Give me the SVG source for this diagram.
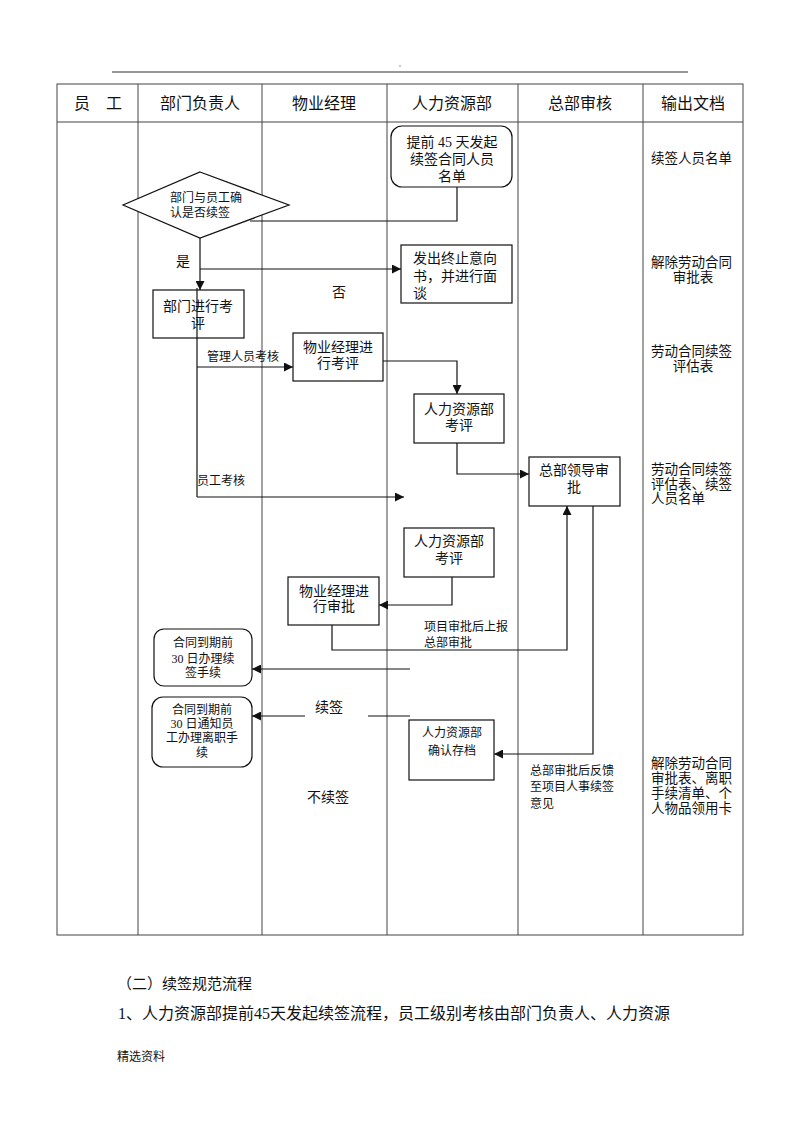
<svg xmlns="http://www.w3.org/2000/svg" width="800" height="1132" viewBox="0 0 800 1132">
<style>
text{font-family:"Liberation Serif","Noto Sans CJK SC",serif;fill:#111}
.h{font-size:16px;text-anchor:middle}
.n14{font-size:14px;text-anchor:middle}
.n12{font-size:12px;text-anchor:middle}
.l12{font-size:12px}
.l14{font-size:14px}
.doc{font-size:13.5px}
.docc{font-size:13.5px;text-anchor:middle}
.grid{stroke:#444;stroke-width:1;fill:none}
.box{fill:#fff;stroke:#111;stroke-width:1.2}
.con{fill:none;stroke:#111;stroke-width:1.2}
</style>
<defs>
<marker id="ah" viewBox="0 0 10 10" refX="10" refY="5" markerWidth="9" markerHeight="9" markerUnits="userSpaceOnUse" orient="auto">
<path d="M0,0 L10,5 L0,10 z" fill="#111"/>
</marker>
</defs>
<rect width="800" height="1132" fill="#fff"/>
<g id="page-header">
<circle cx="400" cy="66" r="0.8" fill="#888"/>
<line x1="112" y1="72" x2="688" y2="72" stroke="#333" stroke-width="1.2"/>
</g>
<g id="table">
<rect x="57" y="84" width="686" height="851" class="grid"/>
<line x1="57" y1="122" x2="743" y2="122" class="grid"/>
<line x1="138" y1="84" x2="138" y2="935" class="grid"/>
<line x1="262" y1="84" x2="262" y2="935" class="grid"/>
<line x1="387" y1="84" x2="387" y2="935" class="grid"/>
<line x1="518" y1="84" x2="518" y2="935" class="grid"/>
<line x1="643" y1="84" x2="643" y2="935" class="grid"/>
<text class="h" x="98" y="109">员　工</text>
<text class="h" x="200" y="109">部门负责人</text>
<text class="h" x="324" y="109">物业经理</text>
<text class="h" x="452" y="109">人力资源部</text>
<text class="h" x="580" y="109">总部审核</text>
<text class="h" x="693" y="109">输出文档</text>
</g>
<g id="connectors">
<polyline class="con" points="457,187 457,221 250,221"/>
<line class="con" x1="200" y1="238" x2="200" y2="290" marker-end="url(#ah)"/>
<line class="con" x1="200" y1="269" x2="401" y2="269" marker-end="url(#ah)"/>
<line class="con" x1="197" y1="288" x2="197" y2="497"/>
<line class="con" x1="197" y1="367" x2="293" y2="367" marker-end="url(#ah)"/>
<line class="con" x1="197" y1="497" x2="404" y2="497" marker-end="url(#ah)"/>
<polyline class="con" points="383,361 457,361 457,394" marker-end="url(#ah)"/>
<polyline class="con" points="457,443 457,474 529,474" marker-end="url(#ah)"/>
<polyline class="con" points="452,577 452,605 379,605" marker-end="url(#ah)"/>
<polyline class="con" points="332,625 332,650 567,650 567,506" marker-end="url(#ah)"/>
<polyline class="con" points="593,506 593,754 494,754" marker-end="url(#ah)"/>
<line class="con" x1="410" y1="669" x2="252" y2="669" marker-end="url(#ah)"/>
<line class="con" x1="410" y1="716" x2="368" y2="716"/>
<line class="con" x1="305" y1="716" x2="252" y2="716" marker-end="url(#ah)"/>
</g>
<g id="labels">
<text class="l14" x="176" y="266">是</text>
<text class="l14" x="332" y="297">否</text>
<text class="l12" x="207" y="361">管理人员考核</text>
<text class="l12" x="197" y="485">员工考核</text>
<text class="l12" x="424" y="631">项目审批后上报</text>
<text class="l12" x="424" y="647">总部审批</text>
<text class="l14" x="315" y="712">续签</text>
<text class="l14" x="307" y="802">不续签</text>
<text class="l12" x="530" y="775">总部审批后反馈</text>
<text class="l12" x="530" y="791">至项目人事续签</text>
<text class="l12" x="530" y="808">意见</text>
</g>
<g id="n-start">
<rect class="box" x="391" y="126" width="121" height="61" rx="11"/>
<text class="n14" x="452" y="147">提前 45 天发起</text>
<text class="n14" x="452" y="164">续签合同人员</text>
<text class="n14" x="452" y="181">名单</text>
</g>
<g id="n-decision">
<polygon class="box" points="200,172 289,205 200,238 123,205"/>
<text class="n12" x="206" y="202">部门与员工确</text>
<text class="n12" x="200" y="217">认是否续签</text>
</g>
<g id="n-terminate">
<rect class="box" x="401" y="245" width="111" height="58"/>
<text class="l14" x="413" y="263">发出终止意向</text>
<text class="l14" x="413" y="281">书，并进行面</text>
<text class="l14" x="413" y="298">谈</text>
</g>
<g id="n-dept-eval">
<rect class="box" x="153" y="290" width="91" height="48" fill-opacity="0"/>
<text class="n14" x="198" y="311">部门进行考</text>
<text class="n14" x="198" y="328">评</text>
</g>
<g id="n-pm-eval">
<rect class="box" x="293" y="333" width="90" height="48"/>
<text class="n14" x="338" y="352">物业经理进</text>
<text class="n14" x="338" y="368">行考评</text>
</g>
<g id="n-hr-eval1">
<rect class="box" x="414" y="394" width="90" height="49"/>
<text class="n14" x="459" y="414">人力资源部</text>
<text class="n14" x="459" y="430">考评</text>
</g>
<g id="n-hq-approve">
<rect class="box" x="529" y="457" width="91" height="49"/>
<text class="n14" x="574" y="475">总部领导审</text>
<text class="n14" x="574" y="492">批</text>
</g>
<g id="n-hr-eval2">
<rect class="box" x="404" y="528" width="90" height="49"/>
<text class="n14" x="449" y="546">人力资源部</text>
<text class="n14" x="449" y="563">考评</text>
</g>
<g id="n-pm-approve">
<rect class="box" x="288" y="577" width="91" height="48"/>
<text class="n14" x="334" y="596">物业经理进</text>
<text class="n14" x="334" y="611">行审批</text>
</g>
<g id="n-renew">
<rect class="box" x="154" y="629" width="98" height="57" rx="10"/>
<text class="n12" x="203" y="647">合同到期前</text>
<text class="n12" x="203" y="663">30 日办理续</text>
<text class="n12" x="203" y="677">签手续</text>
</g>
<g id="n-leave">
<rect class="box" x="152" y="697" width="100" height="70" rx="11"/>
<text class="n12" x="202" y="714">合同到期前</text>
<text class="n12" x="202" y="728">30 日通知员</text>
<text class="n12" x="202" y="742">工办理离职手</text>
<text class="n12" x="202" y="757">续</text>
</g>
<g id="n-hr-archive">
<rect class="box" x="409" y="720" width="85" height="60"/>
<text class="n12" x="452" y="737">人力资源部</text>
<text class="n12" x="452" y="755">确认存档</text>
</g>
<g id="outputs">
<text class="doc" x="651" y="163">续签人员名单</text>
<text class="doc" x="651" y="267">解除劳动合同</text>
<text class="docc" x="693" y="282">审批表</text>
<text class="doc" x="651" y="356">劳动合同续签</text>
<text class="docc" x="693" y="371">评估表</text>
<text class="doc" x="651" y="474">劳动合同续签</text>
<text class="doc" x="651" y="489">评估表、续签</text>
<text class="doc" x="651" y="503">人员名单</text>
<text class="doc" x="651" y="768">解除劳动合同</text>
<text class="doc" x="651" y="783">审批表、离职</text>
<text class="doc" x="651" y="798">手续清单、个</text>
<text class="doc" x="651" y="813">人物品领用卡</text>
</g>
<g id="body-text">
<text x="117" y="989" style="font-size:15px">（二）续签规范流程</text>
<text x="118" y="1019" style="font-size:16px">1、人力资源部提前45天发起续签流程，员工级别考核由部门负责人、人力资源</text>
<text x="117" y="1061" style="font-size:12px">精选资料</text>
</g>
</svg>
